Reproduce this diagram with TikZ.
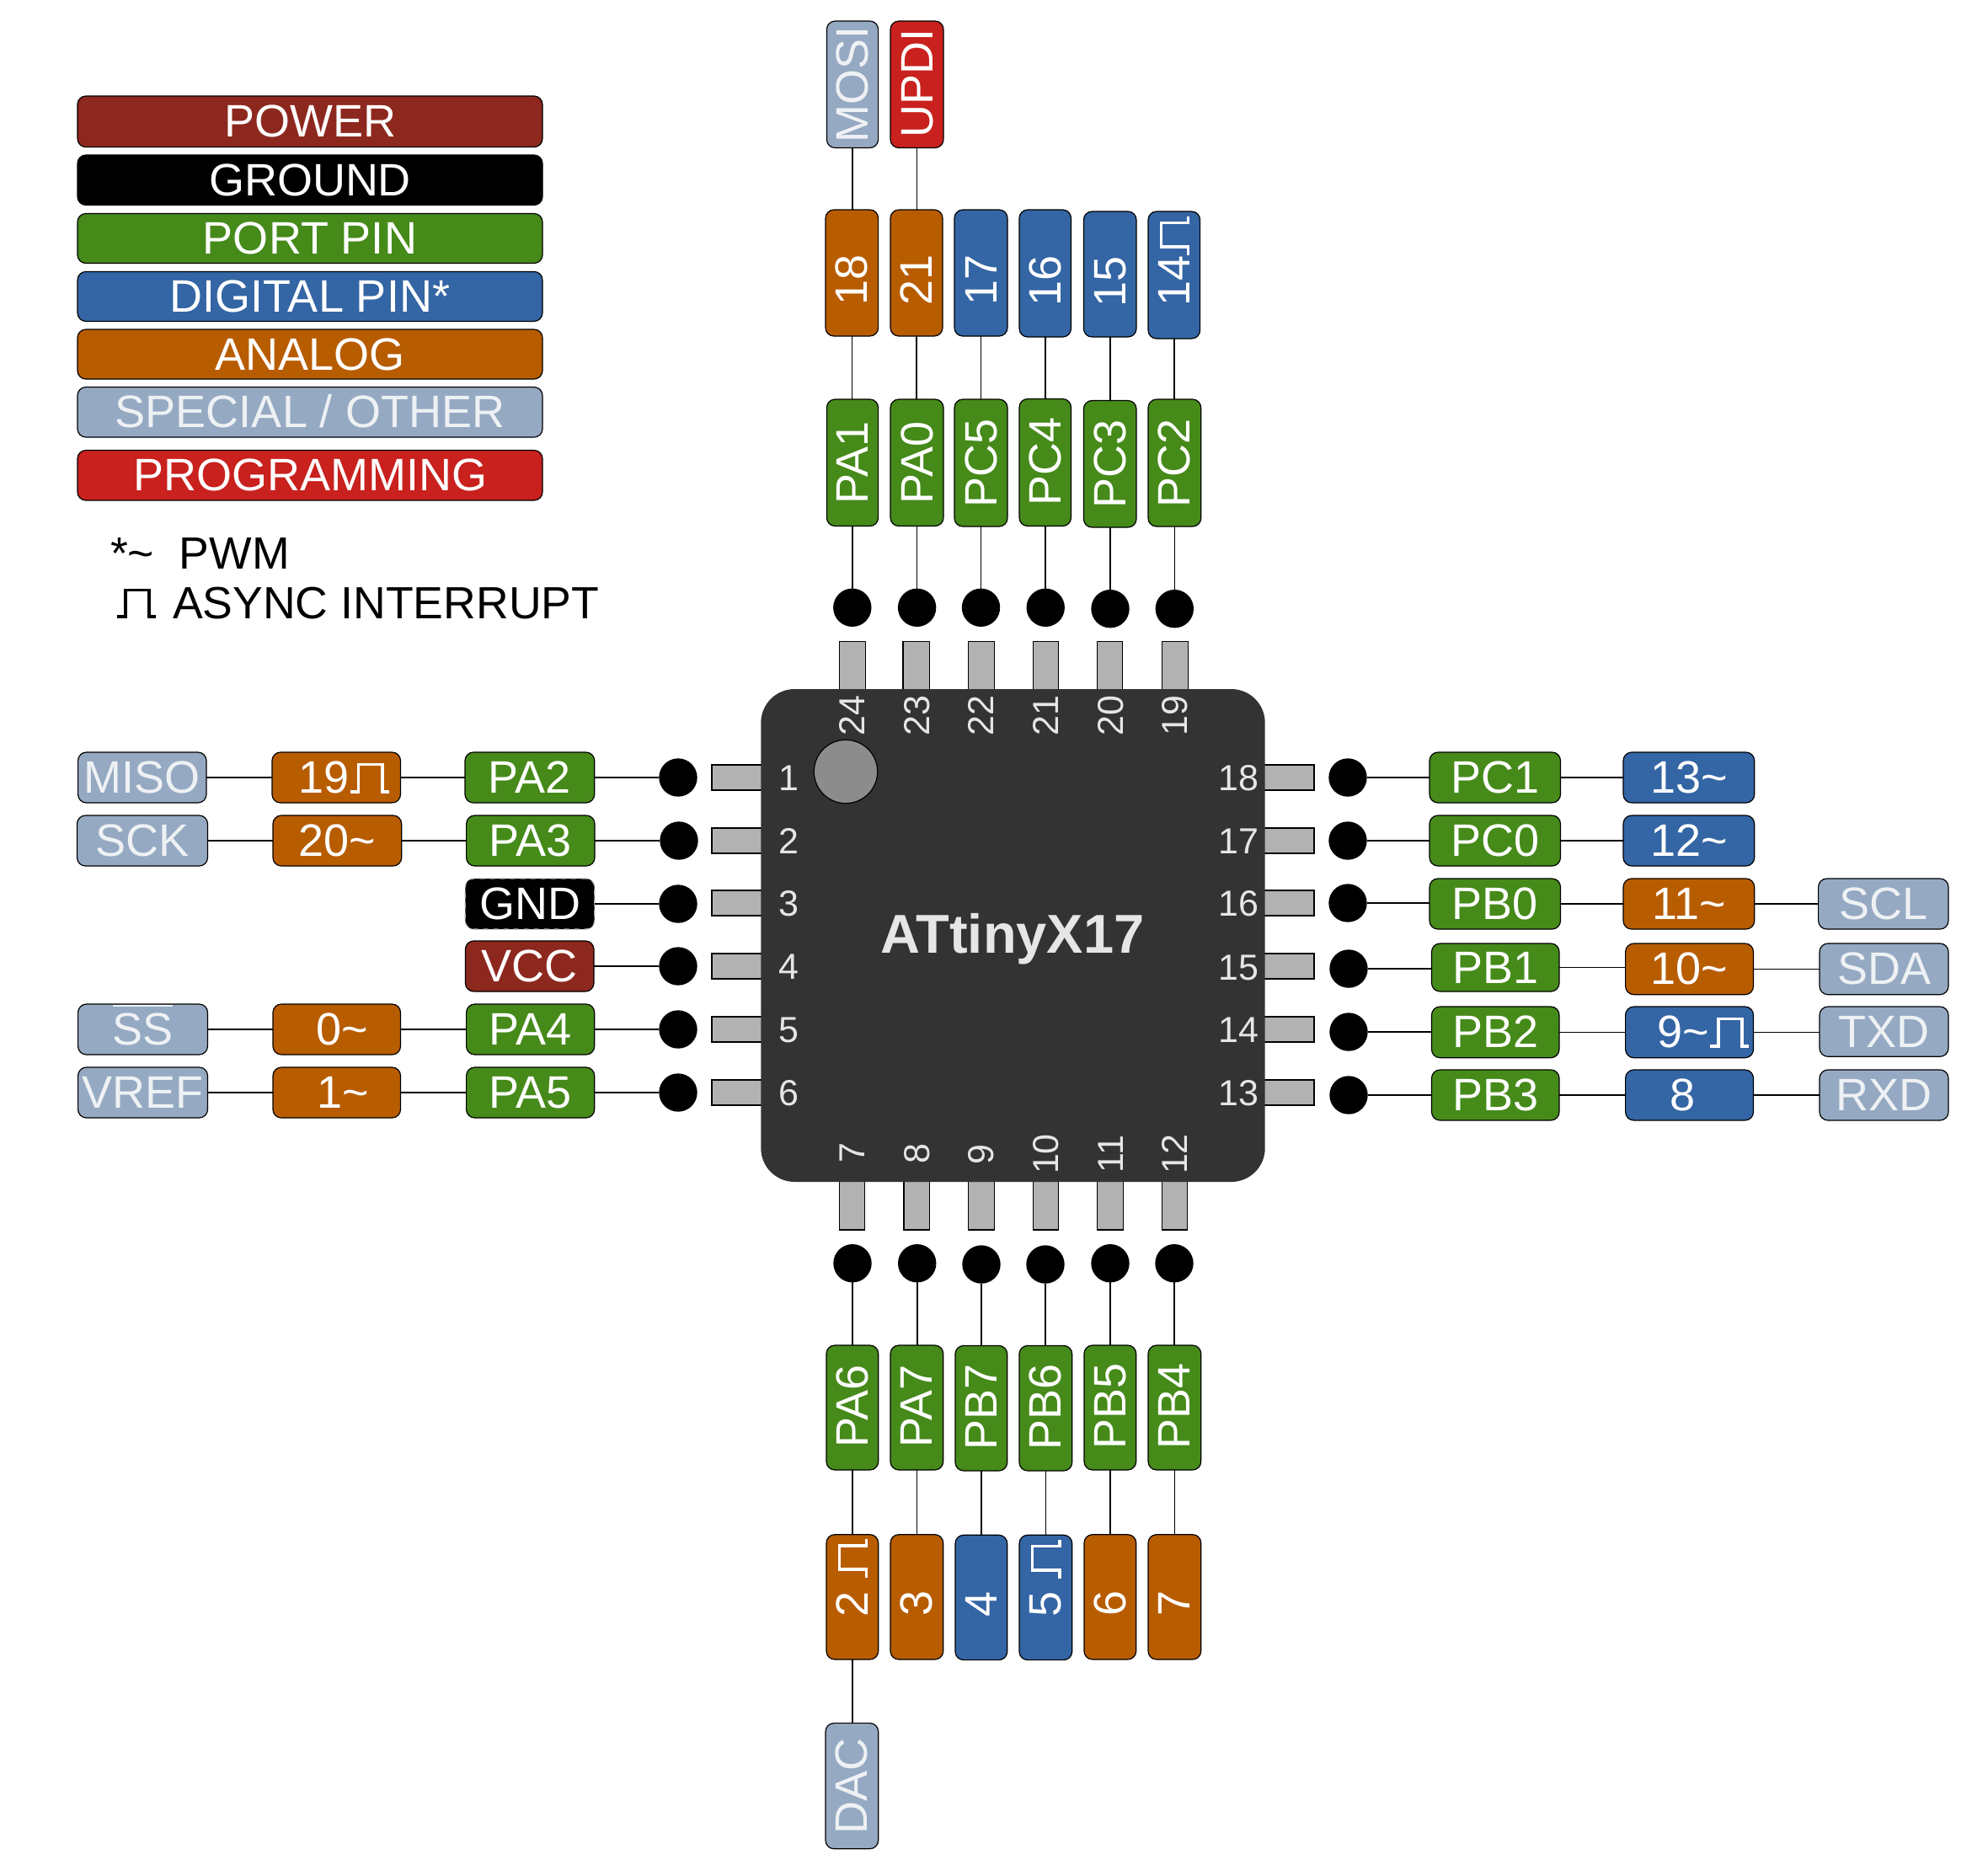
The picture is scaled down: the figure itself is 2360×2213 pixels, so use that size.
\documentclass[tikz,border=0pt]{standalone}
\usepackage{fontspec}
\usepackage{graphicx}
\setmainfont{Liberation Sans}
\usetikzlibrary{calc}
\definecolor{cpower}{HTML}{8D281E}
\definecolor{cground}{HTML}{000000}
\definecolor{cport}{HTML}{468A1A}
\definecolor{cdigital}{HTML}{3465A4}
\definecolor{canalog}{HTML}{B85C00}
\definecolor{cspecial}{HTML}{95A9C2}
\definecolor{cprog}{HTML}{C9211E}
\definecolor{cchip}{HTML}{333333}
\definecolor{cpad}{HTML}{B2B2B2}
\definecolor{cmark}{HTML}{8C8C8C}
\definecolor{cnum}{HTML}{E6E6E6}
\definecolor{cstxt}{HTML}{EEF1F4}
\newcommand{\pulse}{\hbox to .88em{\rlap{\kern.02em\rule{.2em}{.07em}}\rlap{\kern.17em\rule{.07em}{.66em}}\rlap{\kern.17em\raisebox{.6em}{\rule{.59em}{.06em}}}\rlap{\kern.69em\rule{.07em}{.66em}}\rlap{\kern.69em\rule{.18em}{.07em}}\hss}}
\tikzset{
  x=0.5pt,y=-0.5pt,
  pinbox/.style={draw=black,line width=0.6pt,rounded corners=5pt,inner sep=0pt,outer sep=0pt},
  pintext/.style={inner sep=0pt,outer sep=0pt,text=white,font=\fontsize{27}{27}\selectfont,text height=18.5pt,text depth=0pt},
  legtext/.style={inner sep=0pt,outer sep=0pt,text=white,font=\fontsize{27}{27}\selectfont,text height=18.5pt,text depth=0pt},
  notetext/.style={inner sep=0pt,outer sep=0pt,text=black,font=\fontsize{26.8}{26.8}\selectfont,anchor=base west},
  numtext/.style={inner sep=0pt,outer sep=0pt,text=cnum,font=\fontsize{21.5}{21.5}\selectfont,text height=15pt,text depth=0pt},
  padbox/.style={draw=black,line width=0.6pt,fill=cpad,inner sep=0pt,outer sep=0pt},
  dotnode/.style={circle,fill=black,inner sep=0pt,outer sep=0pt,minimum size=22.7pt},
  wire/.style={draw=black,line width=0.8pt},
}
% name x1 y1 x2 y2 fill text dx
\newcommand{\pinh}[8]{%
  \pgfmathsetmacro{\bcx}{(#2+#4)/2}\pgfmathsetmacro{\bcy}{(#3+#5)/2}%
  \pgfmathsetmacro{\bw}{(#4-#2)*0.5}\pgfmathsetmacro{\bh}{(#5-#3)*0.5}%
  \node[pinbox,fill=#6,minimum width=\bw pt,minimum height=\bh pt] (#1) at (\bcx,\bcy) {};%
  \node[pintext] (#1t) at (\bcx+#8,\bcy) {#7};%
}
% name x1 y1 x2 y2 fill text dy
\newcommand{\pinv}[8]{%
  \pgfmathsetmacro{\bcx}{(#2+#4)/2}\pgfmathsetmacro{\bcy}{(#3+#5)/2}%
  \pgfmathsetmacro{\bw}{(#4-#2)*0.5}\pgfmathsetmacro{\bh}{(#5-#3)*0.5}%
  \node[pinbox,fill=#6,minimum width=\bw pt,minimum height=\bh pt] (#1) at (\bcx,\bcy) {};%
  \node[pintext,rotate=90] (#1t) at (\bcx,\bcy+#8) {#7};%
}
\newcommand{\legbox}[6]{%
  \pgfmathsetmacro{\bcy}{(#2+#3)/2}\pgfmathsetmacro{\bh}{(#3-#2)*0.5}%
  \node[pinbox,fill=#4,minimum width=276pt,minimum height=\bh pt] (#1) at (368,\bcy) {};%
  \node[legtext,#6] (#1t) at (368,\bcy) {#5};%
}
\newcommand{\padb}[5]{%
  \pgfmathsetmacro{\bcx}{(#2+#4)/2}\pgfmathsetmacro{\bcy}{(#3+#5)/2}%
  \pgfmathsetmacro{\bw}{(#4-#2)*0.5}\pgfmathsetmacro{\bh}{(#5-#3)*0.5}%
  \node[padbox,minimum width=\bw pt,minimum height=\bh pt] (#1) at (\bcx,\bcy) {};%
}
\newcommand{\hw}[2]{\draw[wire] (#1.east) -- (#1.east -| #2.west);}
\newcommand{\hwr}[2]{\draw[wire] (#2.east) -- (#2.east -| #1.west);}
\newcommand{\vw}[2]{\draw[wire] (#1.south) -- (#1.south |- #2.north);}
\begin{document}
\begin{tikzpicture}
\useasboundingbox (0,0) rectangle (2360,2213);
\fill[white] (0,0) rectangle (2360,2213);

% legend
\legbox{lpower}{114}{174.6}{cpower}{POWER}{}
\legbox{lground}{184}{243.5}{cground}{GROUND}{}
\legbox{lport}{253.5}{312.5}{cport}{PORT PIN}{}
\legbox{ldigital}{322.4}{381.4}{cdigital}{DIGITAL PIN*}{}
\legbox{lanalog}{391}{450}{canalog}{ANALOG}{}
\legbox{lspecial}{459.5}{519}{cspecial}{SPECIAL / OTHER}{text=cstxt}
\legbox{lprog}{534.5}{594}{cprog}{PROGRAMMING}{}
\node[notetext] (npwm) at (131,675) {*\char`~\ \ PWM};
\node[notetext] (nasync) at (138,734) {\pulse\hspace{.37em}ASYNC INTERRUPT};

% pads
\padb{pt1}{996.3}{761.3}{1027.8}{820}
\padb{pt2}{1072}{761.3}{1103.7}{820}
\padb{pt3}{1149.4}{761.3}{1180.4}{820}
\padb{pt4}{1226.5}{761.3}{1256.7}{820}
\padb{pt5}{1302.4}{761.3}{1332.7}{820}
\padb{pt6}{1379.6}{761.3}{1410.6}{820}
\padb{pb1}{996.3}{1400}{1026.7}{1460}
\padb{pb2}{1073}{1400}{1103.7}{1460}
\padb{pb3}{1149.3}{1400}{1180.3}{1460}
\padb{pb4}{1226.3}{1400}{1256.7}{1460}
\padb{pb5}{1302.3}{1400}{1333.7}{1460}
\padb{pb6}{1379.3}{1400}{1409.7}{1460}
\padb{pl1}{845}{908}{906}{938}
\padb{pl2}{845}{983}{906}{1013}
\padb{pl3}{845}{1057}{906}{1087}
\padb{pl4}{845}{1132}{906}{1162}
\padb{pl5}{845}{1207}{906}{1237}
\padb{pl6}{845}{1282}{906}{1312}
\padb{pr1}{1499}{908}{1560}{938}
\padb{pr2}{1499}{983}{1560}{1013}
\padb{pr3}{1499}{1057}{1560}{1087}
\padb{pr4}{1499}{1132}{1560}{1162}
\padb{pr5}{1499}{1207}{1560}{1237}
\padb{pr6}{1499}{1282}{1560}{1312}

% chip
\node[fill=cchip,rounded corners=20pt,inner sep=0pt,outer sep=0pt,minimum width=299.2pt,minimum height=292.5pt] (chip) at (1202.5,1110.5) {};
\node[circle,draw=black,line width=0.6pt,fill=cmark,inner sep=0pt,minimum size=37.7pt] (mark) at (1004,916) {};
\node[inner sep=0pt,text=cnum,font=\bfseries\fontsize{32.5}{32.5}\selectfont,anchor=base] (title) at (1202,1131.7) {ATtinyX17};

% chip numbers
\node[numtext] (n1) at (936,923) {1};
\node[numtext] (n2) at (936,998) {2};
\node[numtext] (n3) at (936,1072) {3};
\node[numtext] (n4) at (936,1147) {4};
\node[numtext] (n5) at (936,1222) {5};
\node[numtext] (n6) at (936,1297) {6};
\node[numtext] (n18) at (1470,923) {18};
\node[numtext] (n17) at (1470,998) {17};
\node[numtext] (n16) at (1470,1072) {16};
\node[numtext] (n15) at (1470,1148) {15};
\node[numtext] (n14) at (1470,1222) {14};
\node[numtext] (n13) at (1470,1297) {13};
\node[numtext,rotate=90] (n24) at (1011.4,849.5) {24};
\node[numtext,rotate=90] (n23) at (1088,849.5) {23};
\node[numtext,rotate=90] (n22) at (1164.5,849.5) {22};
\node[numtext,rotate=90] (n21) at (1241,849.5) {21};
\node[numtext,rotate=90] (n20) at (1318,849.5) {20};
\node[numtext,rotate=90] (n19) at (1394.5,849.5) {19};
\node[numtext,rotate=90] (n7) at (1011,1369) {7};
\node[numtext,rotate=90] (n8) at (1088,1370) {8};
\node[numtext,rotate=90] (n9) at (1164,1371) {9};
\node[numtext,rotate=90] (n10) at (1241,1370) {10};
\node[numtext,rotate=90] (n11) at (1318,1370) {11};
\node[numtext,rotate=90] (n12) at (1394,1370) {12};

% dots
\node[dotnode] (dt1) at (1011.8,721.3) {};
\node[dotnode] (dt2) at (1088.6,721.3) {};
\node[dotnode] (dt3) at (1164.5,721.3) {};
\node[dotnode] (dt4) at (1241.2,721.3) {};
\node[dotnode] (dt5) at (1318,722.7) {};
\node[dotnode] (dt6) at (1394.3,722.7) {};
\node[dotnode] (db1) at (1012,1499.7) {};
\node[dotnode] (db2) at (1088.7,1499.7) {};
\node[dotnode] (db3) at (1165,1501) {};
\node[dotnode] (db4) at (1241,1501) {};
\node[dotnode] (db5) at (1318,1499.7) {};
\node[dotnode] (db6) at (1394,1499.7) {};
\node[dotnode] (dl1) at (805,923) {};
\node[dotnode] (dl2) at (806,998) {};
\node[dotnode] (dl3) at (805,1073) {};
\node[dotnode] (dl4) at (805,1147) {};
\node[dotnode] (dl5) at (805,1222) {};
\node[dotnode] (dl6) at (805,1297) {};
\node[dotnode] (dr1) at (1600,923) {};
\node[dotnode] (dr2) at (1600,998) {};
\node[dotnode] (dr3) at (1600,1072) {};
\node[dotnode] (dr4) at (1601,1150) {};
\node[dotnode] (dr5) at (1601,1225) {};
\node[dotnode] (dr6) at (1601,1300) {};

% top
\pinv{mosi}{981.4}{25}{1042.6}{175.5}{cspecial}{\textcolor{cstxt}{MOSI}}{0.6}
\pinv{updi}{1057}{25}{1120}{175.5}{cprog}{UPDI}{-1.5}
\pinv{a18}{980}{249}{1042.6}{399}{canalog}{18}{8.5}
\pinv{a21}{1057}{249}{1119}{399}{canalog}{21}{8}
\pinv{d17}{1133}{249}{1196}{399}{cdigital}{17}{8.5}
\pinv{d16}{1210}{249}{1271.5}{400}{cdigital}{16}{8.5}
\pinv{d15}{1286.4}{251}{1349}{400}{cdigital}{15}{8.5}
\pinv{d14}{1363}{251}{1424.6}{402}{cdigital}{14\pulse}{-16.5}
\pinv{pa1}{981.4}{474}{1042.6}{624.5}{cport}{PA1}{0}
\pinv{pa0}{1057}{474}{1120}{624.5}{cport}{PA0}{0}
\pinv{pc5}{1133}{474}{1196}{625}{cport}{PC5}{0}
\pinv{pc4}{1210}{473.5}{1271.5}{624.5}{cport}{PC4}{-1.5}
\pinv{pc3}{1286.4}{475.5}{1349}{626}{cport}{PC3}{0}
\pinv{pc2}{1363}{474}{1425.7}{625}{cport}{PC2}{0}
\vw{mosi}{a18}
\vw{updi}{a21}
\vw{a18}{pa1}
\vw{a21}{pa0}
\vw{d17}{pc5}
\vw{d16}{pc4}
\vw{d15}{pc3}
\vw{d14}{pc2}
\vw{pa1}{dt1}
\vw{pa0}{dt2}
\vw{pc5}{dt3}
\vw{pc4}{dt4}
\vw{pc3}{dt5}
\vw{pc2}{dt6}

% bottom
\pinv{pa6}{981}{1597}{1042.7}{1745}{cport}{PA6}{-1.6}
\pinv{pa7}{1057}{1597}{1119.7}{1745}{cport}{PA7}{-1.6}
\pinv{pb7}{1134}{1597.4}{1195.7}{1746}{cport}{PB7}{-1.6}
\pinv{pb6}{1210}{1597.4}{1272.7}{1746}{cport}{PB6}{-1.6}
\pinv{pb5}{1287}{1597}{1348.7}{1745}{cport}{PB5}{-1.6}
\pinv{pb4}{1363}{1597}{1425.7}{1745}{cport}{PB4}{-1.6}
\pinv{a2}{981}{1821.7}{1042.7}{1970}{canalog}{2 \pulse}{-23}
\pinv{a3}{1057}{1821.7}{1119.7}{1970}{canalog}{3}{8}
\pinv{d4}{1134}{1822.3}{1195.7}{1970.6}{cdigital}{4}{8}
\pinv{d5}{1210}{1822.3}{1272.7}{1970.6}{cdigital}{5 \pulse}{-23}
\pinv{a6}{1287}{1821.7}{1348.7}{1970}{canalog}{6}{8}
\pinv{a7}{1363}{1821.7}{1425.7}{1970}{canalog}{7}{8}
\pinv{dac}{980}{2045.6}{1042.7}{2194.7}{cspecial}{\textcolor{cstxt}{DAC}}{0}
\vw{db1}{pa6}
\vw{db2}{pa7}
\vw{db3}{pb7}
\vw{db4}{pb6}
\vw{db5}{pb5}
\vw{db6}{pb4}
\vw{pa6}{a2}
\vw{pa7}{a3}
\vw{pb7}{d4}
\vw{pb6}{d5}
\vw{pb5}{a6}
\vw{pb4}{a7}
\vw{a2}{dac}

% left
\pinh{miso}{92.6}{893}{245}{953}{cspecial}{\textcolor{cstxt}{MISO}}{0}
\pinh{a19}{323}{893}{475.5}{953}{canalog}{19\pulse}{9}
\pinh{pa2}{552}{893}{705.7}{953}{cport}{PA2}{0}
\pinh{sck}{91.5}{968}{246.5}{1028}{cspecial}{\textcolor{cstxt}{SCK}}{0}
\pinh{a20}{324}{968}{476.7}{1028}{canalog}{20\char`~}{0}
\pinh{pa3}{553.6}{968}{706}{1028}{cport}{PA3}{0}
\node[pinbox,fill=black,draw=cpad,dash pattern=on 3pt off 3pt,minimum width=76.7pt,minimum height=30pt] (gnd) at (629,1073) {};
\node[pintext] (gndt) at (629,1073) {GND};
\pinh{vcc}{552.4}{1117}{705}{1177}{cpower}{VCC}{0}
\pinh{ss}{92.6}{1192}{246.5}{1252}{cspecial}{\textcolor{cstxt}{SS}}{0}
\pinh{a0}{324}{1192}{475.5}{1252}{canalog}{0\char`~}{7}
\pinh{pa4}{553.6}{1192}{705.7}{1252}{cport}{PA4}{0}
\pinh{vref}{92.6}{1267}{246.5}{1327}{cspecial}{\textcolor{cstxt}{VREF}}{0}
\pinh{a1}{324}{1267}{475.5}{1327}{canalog}{1\char`~}{8}
\pinh{pa5}{553.6}{1267}{705.7}{1327}{cport}{PA5}{0}
\draw[cstxt,line width=1pt] ($(ss.north)+(-35.5,2)$) -- ($(ss.north)+(35.5,2)$);
\hw{miso}{a19}
\hw{a19}{pa2}
\hw{pa2}{dl1}
\hw{sck}{a20}
\hw{a20}{pa3}
\hw{pa3}{dl2}
\hw{gnd}{dl3}
\hw{vcc}{dl4}
\hw{ss}{a0}
\hw{a0}{pa4}
\hw{pa4}{dl5}
\hw{vref}{a1}
\hw{a1}{pa5}
\hw{pa5}{dl6}

% right
\pinh{pc1}{1697}{893}{1852.5}{953}{cport}{PC1}{0}
\pinh{d13}{1927}{893}{2082.7}{953}{cdigital}{13\char`~}{0}
\pinh{pc0}{1697}{968}{1852.5}{1028}{cport}{PC0}{0}
\pinh{d12}{1927}{968}{2082.7}{1028}{cdigital}{12\char`~}{0}
\pinh{pb0}{1697}{1043}{1852.5}{1103}{cport}{PB0}{0}
\pinh{a11}{1927}{1043}{2082.7}{1103}{canalog}{11\char`~}{0}
\pinh{scl}{2158.6}{1043}{2313}{1103}{cspecial}{\textcolor{cstxt}{SCL}}{0}
\pinh{pb1}{1699.5}{1120}{1851}{1177}{cport}{PB1}{0}
\pinh{a10}{1929.6}{1120}{2081.5}{1180.7}{canalog}{10\char`~}{0}
\pinh{sda}{2160}{1120}{2313}{1180.7}{cspecial}{\textcolor{cstxt}{SDA}}{0}
\pinh{pb2}{1699.5}{1195}{1851}{1255.7}{cport}{PB2}{0}
\pinh{d9}{1929.6}{1195}{2081.5}{1255.7}{cdigital}{9\char`~\pulse}{16}
\pinh{txd}{2160}{1195}{2313}{1254.3}{cspecial}{\textcolor{cstxt}{TXD}}{0}
\pinh{pb3}{1699.5}{1270}{1851}{1330}{cport}{PB3}{0}
\pinh{d8}{1929.6}{1270}{2081.5}{1330}{cdigital}{8}{-8}
\pinh{rxd}{2160}{1270}{2313}{1330}{cspecial}{\textcolor{cstxt}{RXD}}{0}
\hwr{pc1}{dr1}
\hw{pc1}{d13}
\hwr{pc0}{dr2}
\hw{pc0}{d12}
\hwr{pb0}{dr3}
\hw{pb0}{a11}
\hw{a11}{scl}
\hwr{pb1}{dr4}
\hw{pb1}{a10}
\hw{a10}{sda}
\hwr{pb2}{dr5}
\hw{pb2}{d9}
\hw{d9}{txd}
\hwr{pb3}{dr6}
\hw{pb3}{d8}
\hw{d8}{rxd}
\end{tikzpicture}
\end{document}
